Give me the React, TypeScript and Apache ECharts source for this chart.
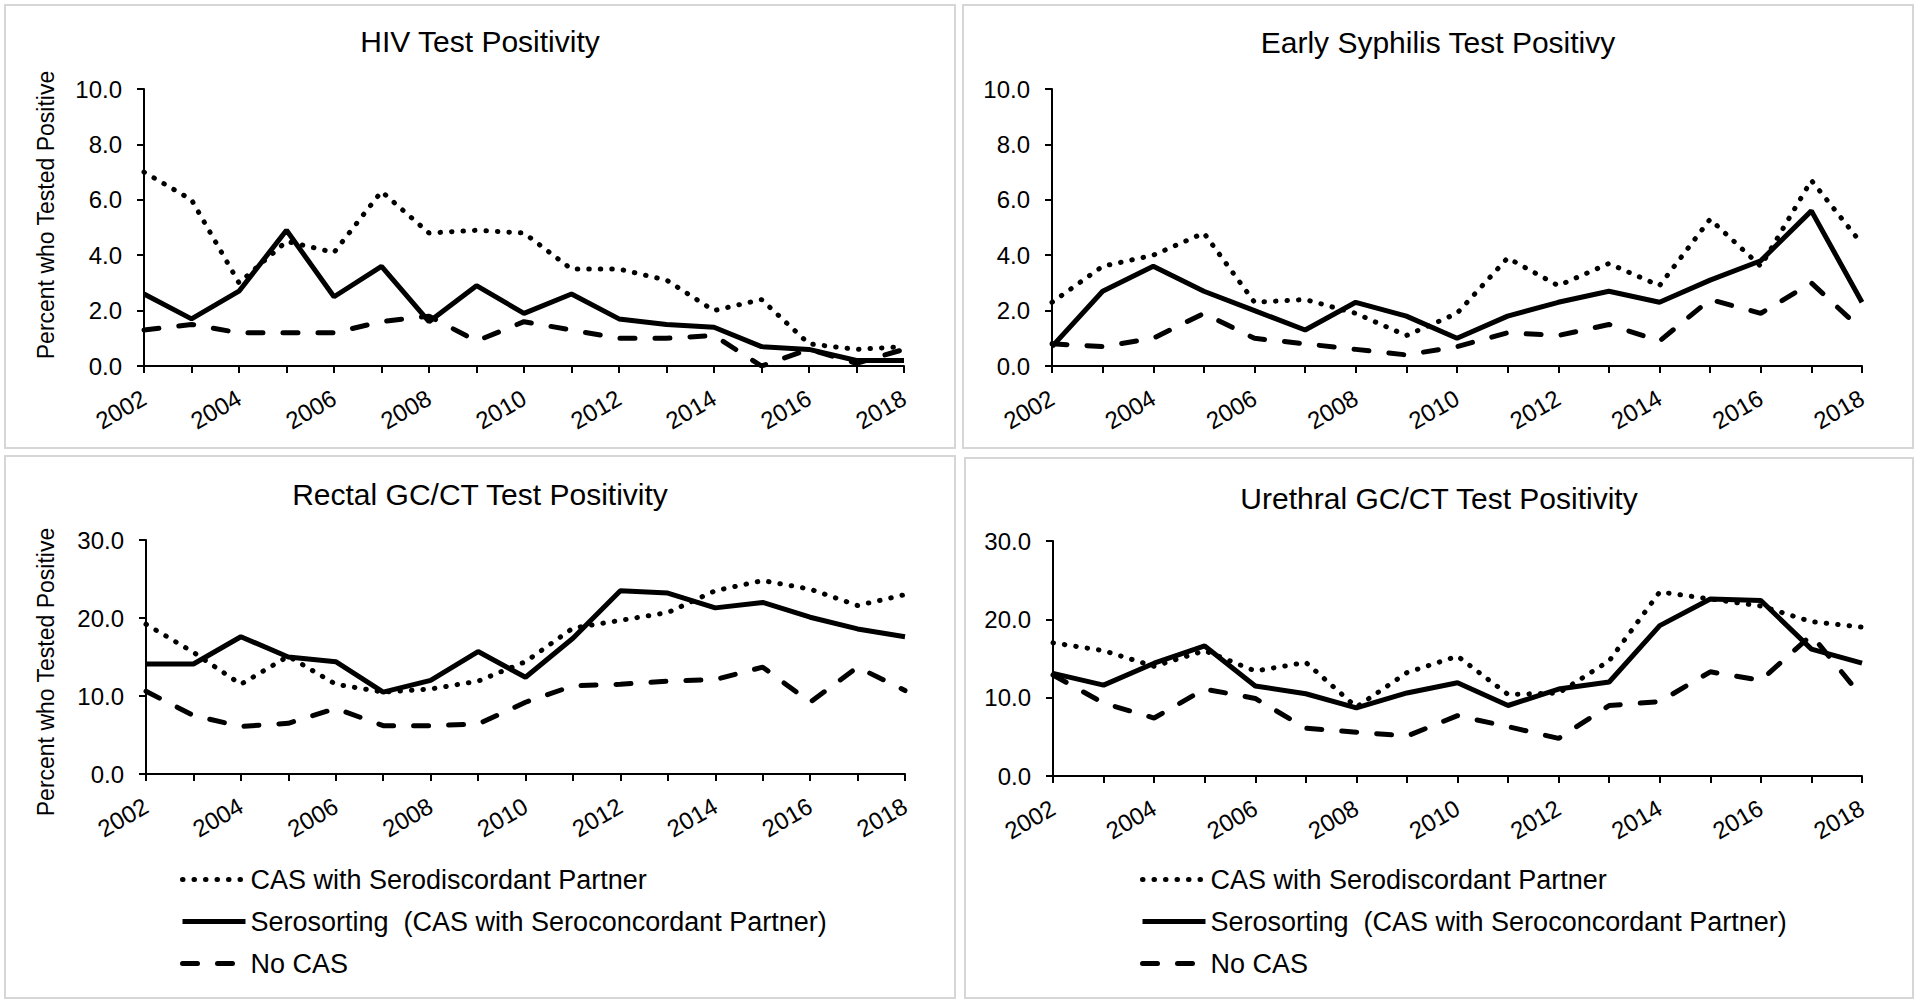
import React, { useEffect, useRef } from "react";
import * as echarts from "echarts";

const years = ["2002","2003","2004","2005","2006","2007","2008","2009","2010","2011","2012","2013","2014","2015","2016","2017","2018"];

const seriesNames = [
  "CAS with Serodiscordant Partner",
  "Serosorting  (CAS with Seroconcordant Partner)",
  "No CAS",
];

const panelTitles = [
  "HIV Test Positivity",
  "Early Syphilis Test Positivy",
  "Rectal GC/CT Test Positivity",
  "Urethral GC/CT Test Positivity",
];

const yAxisName = "Percent who Tested Positive";

const hivDiscordant = [7.0, 6.0, 3.0, 4.5, 4.1, 6.3, 4.8, 4.9, 4.8, 3.5, 3.5, 3.1, 2.0, 2.4, 0.8, 0.6, 0.7];
const hivConcordant = [2.6, 1.7, 2.7, 4.9, 2.5, 3.6, 1.6, 2.9, 1.9, 2.6, 1.7, 1.5, 1.4, 0.7, 0.6, 0.2, 0.2];
const hivNoCas = [1.3, 1.5, 1.2, 1.2, 1.2, 1.6, 1.8, 0.9, 1.6, 1.3, 1.0, 1.0, 1.1, 0.0, 0.6, 0.1, 0.6];

const syphDiscordant = [2.3, 3.6, 4.0, 4.8, 2.3, 2.4, 1.9, 1.1, 1.9, 3.9, 2.9, 3.7, 2.9, 5.3, 3.6, 6.7, 4.4];
const syphConcordant = [0.7, 2.7, 3.6, 2.7, 2.0, 1.3, 2.3, 1.8, 1.0, 1.8, 2.3, 2.7, 2.3, 3.1, 3.8, 5.6, 2.3];
const syphNoCas = [0.8, 0.7, 1.0, 1.9, 1.0, 0.8, 0.6, 0.4, 0.7, 1.2, 1.1, 1.5, 0.9, 2.4, 1.9, 3.0, 1.3];

const rectalDiscordant = [19.2, 15.6, 11.5, 15.1, 11.5, 10.5, 10.9, 11.9, 14.4, 18.7, 19.7, 20.7, 23.5, 24.8, 23.7, 21.6, 23.0];
const rectalConcordant = [14.1, 14.1, 17.6, 15.0, 14.4, 10.5, 12.0, 15.7, 12.4, 17.4, 23.5, 23.2, 21.3, 22.0, 20.1, 18.6, 17.6];
const rectalNoCas = [10.6, 7.5, 6.1, 6.5, 8.4, 6.2, 6.2, 6.4, 9.2, 11.3, 11.5, 11.9, 12.1, 13.7, 9.2, 13.7, 10.7];

const urethralDiscordant = [17.0, 16.0, 14.0, 16.0, 13.4, 14.5, 8.8, 13.2, 15.3, 10.4, 10.6, 14.7, 23.5, 22.6, 21.7, 19.7, 19.0];
const urethralConcordant = [13.1, 11.6, 14.4, 16.6, 11.5, 10.5, 8.7, 10.6, 11.9, 9.0, 11.1, 12.0, 19.2, 22.6, 22.4, 16.2, 14.4];
const urethralNoCas = [12.9, 9.3, 7.4, 11.1, 9.9, 6.1, 5.6, 5.1, 7.7, 6.3, 4.8, 9.0, 9.5, 13.3, 12.2, 18.0, 10.1];

const panelData = [
  [hivDiscordant, hivConcordant, hivNoCas],
  [syphDiscordant, syphConcordant, syphNoCas],
  [rectalDiscordant, rectalConcordant, rectalNoCas],
  [urethralDiscordant, urethralConcordant, urethralNoCas],
];
const yMax = [10, 10, 30, 30];
const yStep = [2, 2, 10, 10];

const FONT = "'Liberation Sans', Arial, Helvetica, sans-serif";

// layout (pixels)
const grids = [
  { left: 144, top: 89, width: 760, height: 277 },
  { left: 1052, top: 89, width: 810, height: 277 },
  { left: 146, top: 540, width: 759, height: 234 },
  { left: 1053, top: 541, width: 809, height: 235 },
];
const boxes = [
  { x: 5, y: 5, w: 950, h: 443 },
  { x: 963, y: 5, w: 950, h: 443 },
  { x: 5, y: 456, w: 950, h: 542 },
  { x: 965, y: 458, w: 948, h: 540 },
];
const titlePos = [
  { x: 480, y: 41 },
  { x: 1438, y: 42 },
  { x: 480, y: 494 },
  { x: 1439, y: 498 },
];

const lineStyles = [
  { width: 5, type: [0.5, 11], cap: "round" },
  { width: 5, type: "solid", cap: "butt" },
  { width: 5, type: [15, 20], cap: "round" },
];

export default function App() {
  const ref = useRef<HTMLDivElement>(null);
  useEffect(() => {
    if (!ref.current) return;
    const chart = echarts.init(ref.current, null, { renderer: "svg" });

    const graphic: any[] = [];
    boxes.forEach((b) => {
      graphic.push({
        type: "rect",
        shape: { x: b.x, y: b.y, width: b.w, height: b.h },
        style: { fill: "none", stroke: "#d6d6d6", lineWidth: 2 },
        silent: true,
      });
    });
    panelTitles.forEach((t, i) => {
      graphic.push({
        type: "text",
        x: titlePos[i].x,
        y: titlePos[i].y,
        style: {
          text: t,
          fontSize: 30,
          fontFamily: FONT,
          fill: "#000",
          align: "center",
          verticalAlign: "middle",
          textAlign: "center",
          textVerticalAlign: "middle",
        },
      });
    });
    [215, 672].forEach((cy) => {
      graphic.push({
        type: "text",
        x: 46,
        y: cy,
        rotation: Math.PI / 2,
        style: {
          text: yAxisName,
          fontSize: 23,
          fontFamily: FONT,
          fill: "#000",
          align: "center",
          verticalAlign: "middle",
          textAlign: "center",
          textVerticalAlign: "middle",
        },
      });
    });

    const xAxis = grids.map((_, i) => ({
      type: "category",
      gridIndex: i,
      data: years,
      boundaryGap: false,
      axisLine: { show: true, lineStyle: { color: "#000", width: 2 } },
      axisTick: { show: true, interval: 0, length: 7, lineStyle: { color: "#000", width: 2 } },
      axisLabel: {
        interval: 1,
        rotate: 30,
        margin: 30,
        fontSize: 24,
        fontFamily: FONT,
        color: "#000",
      },
      splitLine: { show: false },
    }));
    const yAxis = grids.map((_, i) => ({
      type: "value",
      gridIndex: i,
      min: 0,
      max: yMax[i],
      interval: yStep[i],
      axisLine: { show: true, lineStyle: { color: "#000", width: 2 } },
      axisTick: { show: true, length: 7, lineStyle: { color: "#000", width: 2 } },
      axisLabel: {
        margin: 22,
        fontSize: 24,
        fontFamily: FONT,
        color: "#000",
        formatter: (v: number) => v.toFixed(1),
      },
      splitLine: { show: false },
    }));

    const series: any[] = [];
    panelData.forEach((arrs, pi) => {
      arrs.forEach((vals, si) => {
        series.push({
          type: "line",
          name: seriesNames[si],
          xAxisIndex: pi,
          yAxisIndex: pi,
          data: vals,
          symbol: "none",
          showSymbol: false,
          lineStyle: { color: "#000", ...lineStyles[si] },
          itemStyle: { color: "#000" },
          z: 3 - si,
        });
      });
    });

    const legendCommon = {
      orient: "vertical",
      top: 861,
      itemWidth: 63,
      itemHeight: 27,
      itemGap: 15,
      data: seriesNames,
      textStyle: { fontSize: 27, fontFamily: FONT, color: "#000" },
      itemStyle: { opacity: 0, borderWidth: 0 },
      lineStyle: { width: 5 },
      selectedMode: false,
    };

    chart.setOption({
      animation: false,
      backgroundColor: "#fff",
      grid: grids.map((g) => ({ ...g, containLabel: false })),
      xAxis,
      yAxis,
      series,
      legend: [
        { ...legendCommon, left: 175 },
        { ...legendCommon, left: 1135 },
      ],
      graphic,
    });

    return () => chart.dispose();
  }, []);

  return (
    <div
      ref={ref}
      style={{ position: "fixed", left: 0, top: 0, width: "1920px", height: "1003px", background: "#fff" }}
    />
  );
}
